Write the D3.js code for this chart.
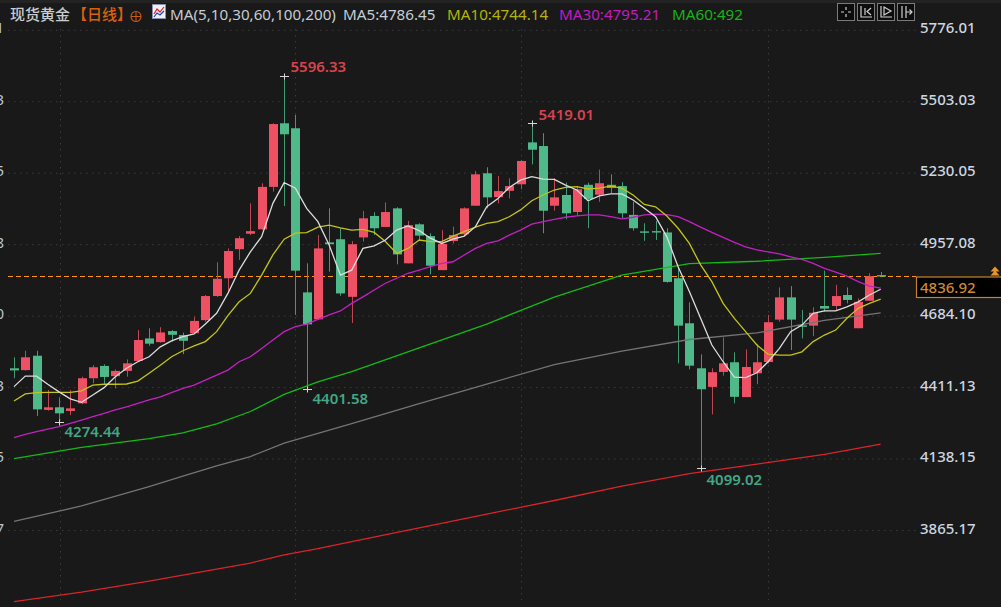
<!DOCTYPE html>
<html><head><meta charset="utf-8">
<script src="https://cdn.jsdelivr.net/npm/d3@7/dist/d3.min.js"></script>
<style>
html,body{margin:0;padding:0;background:#191919;overflow:hidden}
svg{display:block}
text{font-family:"Noto Sans","Noto Sans CJK SC",sans-serif}
</style></head><body>
<svg id="c" width="1001" height="607"></svg>
<script>
const tickValues=[5776.01,5503.03,5230.05,4957.08,4684.10,4411.13,4138.15,3865.17];
const opens=[4481,4474,4529,4322,4332,4318,4347,4443,4490,4451,
4471,4509,4595,4581,4623,4608,4615,4665,4757,4825,
4936,4995,5012,5174,5417,5398,4771,4668,4962,4974,
4754,4981,5063,5021,5092,4882,5031,4986,4856,4967,
4993,5102,5226,5135,5159,5184,5344,5330,5102,5143,
5078,5182,5144,5182,5177,5067,5004,5005,5000,4825,
4653,4481,4410,4467,4504,4371,4462,4505,4667,4752,
4645,4644,4719,4719,4761,4634,4739,4837];
const highs=[4523,4548,4548,4398,4370,4398,4449,4493,4496,4477,
4515,4627,4634,4638,4627,4617,4678,4761,4886,4939,
4986,5111,5188,5417,5596.33,5449,4882,4990,5092,5016,
4967,5082,5077,5115,5096,5044,5035,4997,5009,5022,
5096,5235,5249,5216,5207,5277,5419.01,5379,5207,5190,
5177,5190,5240,5222,5192,5117,5035,5044,5016,4863,
4733,4534,4481,4599,4542,4553,4574,4685,4790,4795,
4704,4714,4854,4800,4790,4748,4844,4849];
const lows=[4443,4472,4299,4319,4274.44,4302,4344,4424,4417,4404,
4449,4506,4567,4579,4583,4535,4612,4659,4754,4774,
4895,4990,5009,5156,5101,4685,4401.58,4665,4850,4758,
4654,4965,4990,5020,4878,4882,4971,4840,4856,4958,
4990,5102,5092,5111,5130,5165,5260,4997,5083,5050,
5063,5016,5117,5150,5054,5007,4968,4971,4808,4500,
4477,4099.02,4305,4453,4347,4371,4420,4500,4659,4551,
4595,4604,4697,4701,4729,4634,4739,4829];
const closes=[4473,4523,4324,4332,4309,4328,4443,4485,4448,4471,
4500,4589,4575,4618,4609,4586,4662,4757,4823,4929,
4978,5005,5174,5414,5375,4854,4649,4939,4955,4767,
4955,5054,5016,5078,4916,5028,4988,4873,4956,4990,
5092,5222,5134,5158,5177,5273,5316,5083,5134,5073,
5165,5128,5188,5170,5073,5016,5002,5003,4811,4644,
4491,4401,4466,4500,4372,4486,4504,4657,4752,4667,
4640,4693,4709,4757,4742,4735,4833,4836.92];
const ma5=[4411,4451,4451,4420,4391,4364,4351,4379,4407,4449,
4481,4506,4525,4563,4586,4602,4612,4650,4691,4767,
4856,4926,4984,5111,5190,5169,5092,5041,4952,4837,
4856,4939,4949,4971,5009,5025,5007,4978,4958,4974,
4986,5022,5098,5130,5172,5200,5213,5204,5203,5181,
5162,5121,5140,5147,5147,5124,5092,5060,4983,4869,
4774,4672,4570,4506,4447,4445,4464,4506,4557,4621,
4646,4691,4700,4700,4716,4735,4761,4783];
const ma10=[4356,4383,4388,4389,4389,4389,4395,4417,4420,4420,
4421,4432,4462,4493,4525,4548,4567,4583,4621,4682,
4735,4767,4837,4914,4974,4997,4999,5020,5028,5017,
5009,5012,5000,4965,4920,4939,4971,4965,4965,4986,
5003,5020,5035,5041,5060,5086,5121,5143,5162,5172,
5175,5166,5169,5177,5169,5143,5107,5098,5063,5016,
4958,4876,4812,4729,4672,4621,4570,4535,4531,4531,
4544,4583,4608,4627,4672,4710,4729,4745];
const ma30=[4216,4229,4239,4249,4258,4271,4283,4296,4309,4322,
4334,4347,4360,4372,4388,4404,4417,4436,4455,4474,
4506,4525,4557,4589,4621,4640,4650,4668,4685,4700,
4729,4754,4780,4806,4825,4844,4856,4869,4882,4888,
4914,4939,4958,4968,4990,5009,5032,5041,5050,5058,
5063,5067,5067,5060,5052,5058,5067,5070,5068,5060,
5041,5020,5000,4981,4962,4945,4933,4926,4918,4907,
4897,4882,4863,4848,4833,4812,4795,4787];
const slowIndex=[0,6,12,15,18,21,24,27,30,36,42,48,54,60,66,72,77];
const ma60=[4136,4179,4212,4234,4269,4316,4381,4429,4468,4559,4650,4753,4837,4881,4890,4905,4920];
const ma100=[3896,3955,4029,4069,4108,4144,4195,4232,4270,4346,4421,4495,4547,4591,4616,4664,4693];
const ma200=[3590,3626,3668,3691,3714,3737,3768,3792,3819,3871,3924,3976,4031,4079,4115,4152,4191];
const lastPrice=4836.92;
const extremes=[
 {i:24,price:5596.33,kind:"high",dx:6,dy:-5},
 {i:46,price:5419.01,kind:"high",dx:6,dy:-4},
 {i:4,price:4274.44,kind:"low",dx:5,dy:14},
 {i:26,price:4401.58,kind:"low",dx:5,dy:14},
 {i:61,price:4099.02,kind:"low",dx:5,dy:16}];
const legend=[
 {t:"MA5:4786.45",x:343,c:"#c4ccd4"},
 {t:"MA10:4744.14",x:447,c:"#b4b406"},
 {t:"MA30:4795.21",x:559,c:"#c01cc0"},
 {t:"MA60:492",x:672,c:"#16b416"}];

const svg=d3.select("#c");
const x=d3.scaleLinear().domain([0,77]).range([14,880.7]);
const y=d3.scaleLinear().domain([5776.01,3865.17]).range([29.3,529.5]);
const px=v=>Math.round(v)+.5;
const gridCol="#3a3a3a";
svg.append("rect").attr("width",1001).attr("height",3).attr("fill","#232323");

// vertical grid
svg.append("g").selectAll("line").data([4.1,25,45,67]).join("line")
  .attr("x1",d=>px(x(d))).attr("x2",d=>px(x(d))).attr("y1",29).attr("y2",600)
  .attr("stroke",gridCol).attr("stroke-dasharray","1.5,4.5");

// price axes (right labels, left clipped labels)
const fmt=d=>d.toFixed(2);
const right=svg.append("g").attr("transform","translate(916,0)")
  .call(d3.axisRight(y).tickValues(tickValues).tickFormat(fmt).tickSize(0).tickPadding(4));
right.select(".domain").remove();
right.selectAll("text").attr("transform","translate(0,-1.2)").attr("fill","#ccd6e0").style("font-size","15px").style("font-weight",500).style("font-family",'"Noto Sans",sans-serif');
right.selectAll(".tick").append("line").attr("x1",-908).attr("x2",0).attr("stroke",gridCol).attr("stroke-dasharray","1.5,4.5").attr("y1",.5).attr("y2",.5);
const left=svg.append("g").attr("transform","translate(4,0)")
  .call(d3.axisLeft(y).tickValues(tickValues).tickFormat(fmt).tickSize(0).tickPadding(0));
left.select(".domain").remove();
left.selectAll("text").attr("transform","translate(0,-1.2)").attr("fill","#b9c6d2").style("font-size","15px").style("font-family",'"Noto Sans",sans-serif');

// last price line
svg.append("line").attr("x1",8).attr("x2",916).attr("y1",Math.ceil(y(lastPrice))+.5).attr("y2",Math.ceil(y(lastPrice))+.5)
  .attr("stroke","#ff9410").attr("stroke-width",1.2).attr("stroke-dasharray","5,3").style("shape-rendering","crispEdges");

// candles
const red="#ee5064",redW="#c04553",green="#50b98a",greenW="#3f9c72";
const idx=d3.range(opens.length);
const up=i=>closes[i]>=opens[i];
const cg=svg.append("g");
cg.selectAll("line").data(idx).join("line")
  .attr("x1",i=>px(x(i))).attr("x2",i=>px(x(i)))
  .attr("y1",i=>y(highs[i])).attr("y2",i=>y(lows[i]))
  .attr("stroke",i=>up(i)?redW:greenW).attr("stroke-width",1);
cg.selectAll("rect").data(idx).join("rect")
  .attr("x",i=>px(x(i))-4.5).attr("width",9)
  .attr("y",i=>y(Math.max(opens[i],closes[i])))
  .attr("height",i=>Math.max(1.4,Math.abs(y(opens[i])-y(closes[i]))))
  .attr("fill",i=>up(i)?red:green);

// moving averages
const line=d3.line().x(d=>x(d[0])).y(d=>y(d[1]));
const series=[
 {v:ma200,ix:slowIndex,c:"#d8242a"},
 {v:ma100,ix:slowIndex,c:"#747474"},
 {v:ma60,ix:slowIndex,c:"#14bb14"},
 {v:ma30,ix:idx,c:"#c420c4"},
 {v:ma10,ix:idx,c:"#c4c418"},
 {v:ma5,ix:idx,c:"#dcdcdc"}];
svg.append("g").selectAll("path").data(series).join("path")
  .attr("d",s=>line(s.v.map((v,k)=>[s.ix[k],v])))
  .attr("fill","none").attr("stroke",s=>s.c).attr("stroke-width",1.3);

// extreme markers
const eg=svg.append("g").selectAll("g").data(extremes).join("g")
  .attr("transform",e=>`translate(${px(x(e.i))},${px(y(e.price))})`);
eg.append("path").attr("d","M-4.5,0H4.5M0,-3V3").attr("stroke","#d8d8d8").attr("stroke-width",1);
eg.append("text").attr("x",e=>e.dx).attr("y",e=>e.dy).text(e=>e.price.toFixed(2))
  .attr("fill",e=>e.kind==="high"?"#d8434f":"#44a685").style("font-size","15px").style("font-weight",600);

// header
const h=svg.append("g");
h.append("text").attr("x",10).attr("y",20).text("现货黄金").attr("fill","#c8ccd0")
  .style("font-family",'"Noto Sans CJK SC"').style("font-size","15px").style("font-weight",500);
h.append("text").attr("x",72).attr("y",20).text("【日线】").attr("fill","#d8620a")
  .style("font-family",'"Noto Sans CJK SC"').style("font-size","15px").style("font-weight",500);
h.append("circle").attr("cx",136).attr("cy",16.5).attr("r",5).attr("fill","none").attr("stroke","#c85a10").attr("stroke-width",1.1);
h.append("path").attr("d","M131,16.5H141M136,11.5V21.5").attr("stroke","#c85a10").attr("stroke-width",1);
h.append("rect").attr("x",152.5).attr("y",4.5).attr("width",13).attr("height",14).attr("fill","#f0f0f4").attr("stroke","#8890b0");
h.append("path").attr("d","M154,14L157,9L160,12L164,7").attr("fill","none").attr("stroke","#e02020").attr("stroke-width",1.2);
h.append("path").attr("d","M154,17L157,13L160,15L164,11").attr("fill","none").attr("stroke","#2040c0").attr("stroke-width",1.2);
h.append("text").attr("x",170).attr("y",20).text("MA(5,10,30,60,100,200)").attr("fill","#c4ccd4").style("font-size","15.2px");
h.selectAll("text.l").data(legend).join("text").attr("class","l")
  .attr("x",d=>d.x).attr("y",20).text(d=>d.t).attr("fill",d=>d.c).style("font-size","15.2px");

// toolbar buttons
const btnX=[837,857,877,897];
const glyphs=[
 "M4,9H7M11,9H14M9,4V7M9,11V14",
 "M4,3V14H15M8,5V12M14,5L10,8.5L14,12",
 "M4,3V14H15M7,4V12L14,8Z",
 "M5,3V15M9,3V15M9,9H15M12.5,6.5L15,9L12.5,11.5"];
const b=svg.append("g").selectAll("g").data(btnX).join("g").attr("transform",d=>`translate(${d},3)`);
b.append("rect").attr("x",.5).attr("y",.5).attr("width",17).attr("height",17).attr("fill","#0c0c0c").attr("stroke","#7a7a7a");
b.append("path").attr("d",(d,i)=>glyphs[i]).attr("fill","none").attr("stroke","#cfcfcf").attr("stroke-width",1.2);

// last price tag
svg.append("rect").attr("x",916.5).attr("y",277).attr("width",90).attr("height",20.5).attr("fill","#000").attr("stroke","#c8822c").attr("stroke-width",1.2);
svg.append("text").attr("x",920).attr("y",292.5).text(lastPrice.toFixed(2)).attr("fill","#cc8a34").style("font-size","15px").style("font-weight",500);
svg.append("path").attr("d","M995,266.5L999.5,271.5H990.5ZM995,270.5L999.5,275.5H990.5Z").attr("fill","#e8962c");
</script>
</body></html>
